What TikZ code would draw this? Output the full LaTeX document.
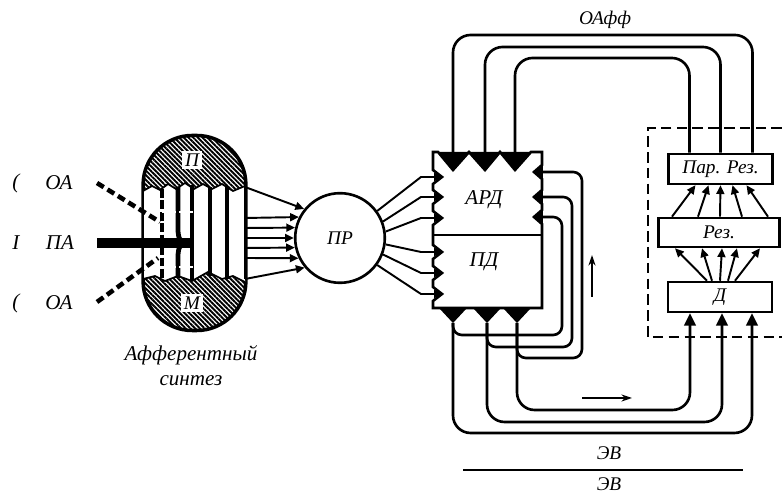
\documentclass[tikz,border=0pt]{standalone}
\usepackage{fontspec}
\setmainfont{Liberation Serif}
\usetikzlibrary{positioning,arrows.meta,calc,patterns.meta}
\tikzset{
  base-font/.style={font=\fontsize{11pt}{13pt}\selectfont\itshape},
  big-font/.style={font=\fontsize{12pt}{14.2pt}\selectfont\itshape},
  loop-line/.style={line width=1.5pt, rounded corners=10pt},
  inner-loop/.style={line width=1.5pt, rounded corners=5pt, -{Triangle[length=5pt,width=7pt]}},
  fan-arrow/.style={-{Triangle[length=5pt,width=4.5pt]}, line width=1.1pt},
  in-arrow/.style={-{Triangle[length=7pt,width=6.5pt]}},
  small-arrow/.style={-{Stealth[length=6pt,width=4pt]}, line width=1.2pt},
  result-box/.style={draw, line width=1.5pt, minimum height=17pt, inner sep=0pt, base-font},
  cap-hatch/.style={pattern={Lines[angle=-45,distance=1.9pt,line width=1.1pt]}},
  tooth/.style={fill=black},
  syn-bar/.style={line width=2.7pt},
  oa-dash/.style={line width=2.6pt, dash pattern=on 4.5pt off 2.5pt}
}

\begin{document}
\begin{tikzpicture}[x=0.02cm, y=-0.02cm, every node/.style={base-font}]
\useasboundingbox (0,0) rectangle (782,492);

% inputs
\node[big-font] (cut1) at (16,183) {(};
\node[big-font] (oa1) at (59,183) {ОА};
\node[big-font] (cut2) at (16,243) {I};
\node[big-font] (pa) at (60,243) {ПА};
\node[big-font] (cut3) at (16,303) {(};
\node[big-font] (oa2) at (59,303) {ОА};

% afferent synthesis
\node[draw, line width=2pt, minimum width=58.5pt, minimum height=111pt, rounded corners=28pt, cap-hatch] (as) at (194.5,233) {};
\fill[white] (144,191) -- (152,186) -- (160,190) -- (168,184) -- (176,189) -- (185,183) -- (194,189) -- (203,184) -- (212,189) -- (222,184) -- (233,191) -- (245,186)
  -- (245,282) -- (233,276) -- (222,279) -- (208,272) -- (192,281) -- (178,276) -- (165,281) -- (155,276) -- (144,279) -- cycle;
\draw[line width=1pt] (143,191) -- (152,186) -- (160,190) -- (168,184) -- (176,189) -- (185,183) -- (194,189) -- (203,184) -- (212,189) -- (222,184) -- (233,191) -- (245,186);
\draw[line width=1pt] (143,279) -- (155,276) -- (165,281) -- (178,276) -- (192,281) -- (208,272) -- (222,279) -- (233,276) -- (245,282);
\coordinate (fan-top) at (245,187);
\coordinate (fan-bot) at (245,279);
\draw[line width=0.9pt] (fan-top) -- (fan-bot);

\draw[syn-bar, dash pattern=on 5pt off 1.5pt] (162,189) -- (162,279);
\draw[syn-bar] (192,185) -- (192,280);
\draw[syn-bar] (210,187) -- (210,276);
\draw[syn-bar] (227,186) -- (227,279);
\draw[syn-bar] (178,187) -- (178,228) .. controls (178,240) and (180,243) .. (192,243);
\draw[syn-bar] (178,278) -- (178,258) .. controls (178,246) and (180,243) .. (192,243);
\foreach \y in {212,267}
  \draw[white, line width=1.2pt, dash pattern=on 3pt off 2pt] (144,\y) -- (200,\y);

\coordinate (pa-out) at (97,243);
\coordinate (pa-in) at (190,243);
\draw[line width=5.5pt] (pa-out) -- (pa-in);
\coordinate (oa1-out) at (97,183);
\coordinate (oa1-in) at (160,222);
\coordinate (oa2-out) at (97,302);
\coordinate (oa2-in) at (158,258);
\draw[oa-dash] (oa1-out) -- (oa1-in);
\draw[oa-dash] (oa2-out) -- (oa2-in);

\node[fill=white, inner sep=1.5pt] (p-lbl) at (192,160) {П};
\node[fill=white, inner sep=1.5pt] (m-lbl) at (192,303) {М};
\node[big-font, align=center] (as-lbl) at (191,366) {Афферентный\\синтез};

% decision
\node[circle, draw, line width=1.5pt, minimum size=51pt, inner sep=0pt] (pr) at (340,238) {ПР};
\draw[fan-arrow] (fan-top) -- (pr.141);
\foreach \y/\a in {218/153.6, 228/167.2, 238/180, 248/192.8, 258/206.4}
  \draw[fan-arrow] (245,\y) -- (pr.\a);
\draw[fan-arrow] (fan-bot) -- (pr.220);

% acceptor and program of action
\draw[line width=1.5pt] (433,152) -- (438,152) -- (453,170) -- (469,152) -- (485,170) -- (500,152) -- (515,170) -- (531,152) -- (542,152)
  -- (542,165) -- (534,172) -- (542,179) -- (542,190) -- (534,197) -- (542,204) -- (542,210) -- (534,217) -- (542,224)
  -- (542,308) -- (433,308)
  -- (433,301) -- (442,294) -- (433,287) -- (433,280) -- (442,273) -- (433,266) -- (433,259) -- (442,252) -- (433,245)
  -- (433,225) -- (442,218) -- (433,211) -- (433,204) -- (442,197) -- (433,190) -- (433,184) -- (442,177) -- (433,170) -- cycle;
\draw[line width=1.5pt] (433,235) -- (542,235);
\node[big-font] (ard) at (484,200) {АРД};
\node[big-font] (pd) at (484,262) {ПД};

\foreach \x in {453,485,515}
  \fill[tooth] (\x-15,152) -- (\x,170) -- (\x+16,152) -- cycle;
\coordinate (t1) at (453,152);
\coordinate (t2) at (485,152);
\coordinate (t3) at (515,152);
\coordinate (b1) at (453,323);
\coordinate (b2) at (487,323);
\coordinate (b3) at (517,323);
\foreach \x in {453,487,517}
  \fill[tooth] (\x-14,308) -- (\x,323) -- (\x+14,308) -- cycle;

\foreach \a/\y in {36/177, 21/197, 8/218, -8/252, -21/273, -36/294}
  \draw[fan-arrow] (pr.\a) -- (421,\y) -- (443,\y);

% inner feedback loops
\draw[inner-loop] (b1) -- (453,335) -- (562,335) -- (562,217) -- (534,217);
\draw[inner-loop] (b2) -- (487,347) -- (572,347) -- (572,197) -- (534,197);
\draw[inner-loop] (b3) -- (517,358) -- (582,358) -- (582,172) -- (534,172);

% result side
\node[result-box, minimum width=59.5pt] (par) at (720.5,169) {Пар. Рез.};
\node[result-box, minimum width=69pt, minimum height=16.5pt] (rez) at (719,232.5) {Рез.};
\node[result-box, minimum width=59pt] (d) at (720,297) {Д};
\draw[line width=1.4pt, dash pattern=on 6pt off 3pt] (782,128) -- (648,128) -- (648,337) -- (782,337);

\foreach \s/\e in {-47/-25, -21/-12, 1/0, 23/12, 49/26}
  \draw[fan-arrow] ($(rez.north)+(\s,0)$) -- ($(par.south)+(\e,0)$);
\foreach \s/\e in {-13/-44, -8/-17, 0/3, 8/18, 15/41}
  \draw[fan-arrow] ($(d.north)+(\s,0)$) -- ($(rez.south)+(\e,0)$);

% return afferentation
\draw[loop-line] ($(par.north)+(32,0)$) |- (600,35) -| (t1);
\draw[loop-line] ($(par.north)+(0,0)$) |- (600,47) -| (t2);
\draw[loop-line] ($(par.north)+(-31,0)$) |- (600,58) -| (t3);
\node (oaff) at (605,20) {ОАфф};

% efferent outputs
\draw[loop-line, in-arrow] (b1) |- (600,433) -| ($(d.south)+(32,0)$);
\draw[loop-line, in-arrow] (b2) |- (600,422) -| ($(d.south)+(2,0)$);
\draw[loop-line, in-arrow] (b3) |- (600,410) -| ($(d.south)+(-30,0)$);

\coordinate (up-s) at (592,297);
\coordinate (up-e) at (592,255);
\draw[small-arrow] (up-s) -- (up-e);
\coordinate (rt-s) at (582,398);
\coordinate (rt-e) at (632,398);
\draw[small-arrow] (rt-s) -- (rt-e);

\node (ev1) at (609,453) {ЭВ};
\coordinate (rule-l) at (463,470);
\coordinate (rule-r) at (743,470);
\draw[line width=0.8pt] (rule-l) -- (rule-r);
\node (ev2) at (609,484) {ЭВ};
\end{tikzpicture}
\end{document}
